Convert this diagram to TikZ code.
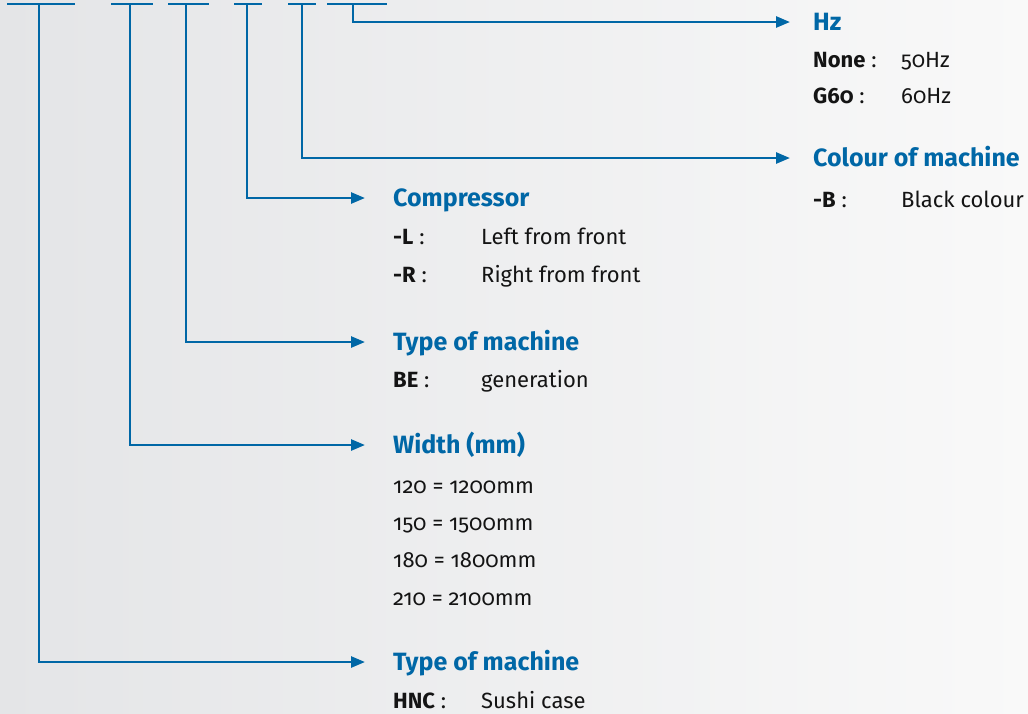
\documentclass[tikz,border=0pt]{standalone}
\usepackage{fontspec}
\setmainfont{Fira Sans}[Numbers=OldStyle]
\usetikzlibrary{arrows.meta}
\definecolor{lineblue}{HTML}{0067A6}
\definecolor{bgleft}{HTML}{E4E5E7}
\definecolor{bgright}{HTML}{F9F9F9}
\definecolor{bodytext}{HTML}{141414}
\begin{document}
\begin{tikzpicture}[x=1pt,y=-1pt,
  conn/.style={draw=lineblue,line width=2.6pt},
  arr/.style={conn,-{Triangle[length=14pt,width=11pt]}},
  head/.style={anchor=west,inner sep=0pt,text=lineblue,font=\fontsize{25}{25}\selectfont\bfseries,text height=17pt,text depth=0pt},
  key/.style={anchor=base west,inner sep=0pt,text=bodytext,font=\fontsize{22}{22}\selectfont},
]
\useasboundingbox (0,0) rectangle (1028,713);
\shade[left color=bgleft,right color=bgright] (0,0) rectangle (1028,713);

% top segments
\foreach \a/\b in {7/75,111/153,168/209,234/262,288/316,327/387}{
  \draw[conn] (\a,4) -- (\b,4);
}
\coordinate (v1) at (39,4);
\coordinate (v2) at (130,4);
\coordinate (v3) at (186,4);
\coordinate (v4) at (247,4);
\coordinate (v5) at (302,4);
\coordinate (v6) at (353,4);

% headings
\node[head] (hz) at (813,22) {Hz};
\node[head] (col) at (813,158) {Colour of machine};
\node[head] (comp) at (393,198) {Compressor};
\node[head] (tom) at (393,342) {Type of machine};
\node[head] (wid) at (393,445) {Width (mm)};
\node[head] (tom2) at (393,662) {Type of machine};

% connectors
\draw[arr] (v6) |- ([xshift=-23pt]hz.west);
\draw[arr] (v5) |- ([xshift=-23pt]col.west);
\draw[arr] (v4) |- ([xshift=-28pt]comp.west);
\draw[arr] (v3) |- ([xshift=-28pt]tom.west);
\draw[arr] (v2) |- ([xshift=-28pt]wid.west);
\draw[arr] (v1) |- ([xshift=-28pt]tom2.west);

% Hz entries
\node[key] (hzk1) at (813,67) {\textbf{None} :};
\node[key] (hzv1) at (901,67) {50Hz};
\node[key] (hzk2) at (813,103) {\textbf{G60} :};
\node[key] (hzv2) at (901,103) {60Hz};

% colour
\node[key] (colk1) at (813,207) {\textbf{-B} :};
\node[key] (colv1) at (901,207) {Black colour};

% compressor
\node[key] (compk1) at (393,244) {\textbf{-L} :};
\node[key] (compv1) at (481,244) {Left from front};
\node[key] (compk2) at (393,282) {\textbf{-R} :};
\node[key] (compv2) at (481,282) {Right from front};

% type BE
\node[key] (tomk1) at (393,387) {\textbf{BE} :};
\node[key] (tomv1) at (481,387) {generation};

% width
\node[key] (w1) at (393,493) {120 = 1200mm};
\node[key] (w2) at (393,530) {150 = 1500mm};
\node[key] (w3) at (393,567) {180 = 1800mm};
\node[key] (w4) at (393,605) {210 = 2100mm};

% HNC
\node[key] (hnck) at (393,708) {\textbf{HNC} :};
\node[key] (hncv) at (481,708) {Sushi case};
\end{tikzpicture}
\end{document}
